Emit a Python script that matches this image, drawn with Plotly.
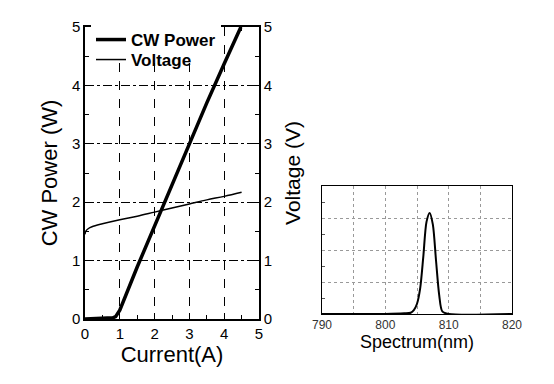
import plotly.graph_objects as go

# LI data
current_a = [0, 0.5, 0.8, 0.88, 0.95, 1.0, 1.5, 2.0, 2.5, 3.0, 3.5, 4.0, 4.48]
power_w = [0, 0.01, 0.02, 0.04, 0.1, 0.15, 0.89, 1.6, 2.31, 3.01, 3.70, 4.37, 5.0]

current_v = [0, 0.02, 0.1, 0.2, 0.5, 1.0, 1.5, 2.0, 2.5, 3.0, 3.5, 4.0, 4.5]
voltage_v = [1.45, 1.5, 1.55, 1.58, 1.63, 1.7, 1.76, 1.83, 1.9, 1.97, 2.04, 2.1, 2.17]

# Spectrum
wavelength_nm = [790, 800, 803, 804, 804.5, 805, 805.5, 806, 806.5, 807, 807.5, 808, 808.5, 809, 810, 820]
intensity = [0, 0, 0.005, 0.01, 0.03, 0.08, 0.2, 0.45, 0.72, 0.79, 0.7, 0.42, 0.15, 0.02, 0, 0]

tick_vals = [0, 1, 2, 3, 4, 5]
spec_ticks = [790, 800, 810, 820]
spec_minor = [795, 805, 815]

FONT = "Liberation Sans, Arial, sans-serif"

fig = go.Figure()
fig.add_trace(go.Scatter(x=current_a, y=power_w, mode="lines", name="CW Power",
                         line=dict(color="black", width=3.5), xaxis="x", yaxis="y",
                         legend="legend"))
fig.add_trace(go.Scatter(x=current_v, y=voltage_v, mode="lines", name="Voltage",
                         line=dict(color="black", width=1.5, shape="spline"), xaxis="x", yaxis="y2",
                         legend="legend2"))
fig.add_trace(go.Scatter(x=wavelength_nm, y=intensity, mode="lines", showlegend=False,
                         line=dict(color="black", width=2, shape="spline", smoothing=0.8),
                         xaxis="x3", yaxis="y3"))

ax_common = dict(showline=True, linecolor="black", linewidth=1.5, ticks="inside",
                 tickcolor="black", ticklen=6, tickwidth=1.2, automargin=False,
                 tickfont=dict(family=FONT, size=15, color="black"), zeroline=False)
minor_common = dict(ticks="inside", ticklen=4, dtick=0.5, tickcolor="black", showgrid=False)
leg_common = dict(xanchor="left", yanchor="middle", borderwidth=0,
                  font=dict(family=FONT, size=17, color="black", weight="bold"),
                  itemwidth=30)

fig.update_layout(
    width=554, height=384, margin=dict(l=0, r=0, t=0, b=0, autoexpand=False),
    paper_bgcolor="white", plot_bgcolor="white",
    font=dict(family=FONT, color="black"),
    xaxis=dict(domain=[85/554, 259/554], range=[0, 5], tickvals=tick_vals, mirror="ticks",
               showgrid=True, gridcolor="black", griddash="dash", gridwidth=1,
               minor=minor_common,
               title=dict(text="Current(A)", font=dict(family=FONT, size=22), standoff=1),
               anchor="y", **ax_common),
    yaxis=dict(domain=[1-319/384, 1-27/384], range=[0, 5], tickvals=tick_vals,
               showgrid=True, gridcolor="black", griddash="dashdot", gridwidth=1,
               minor=minor_common,
               title=dict(text="CW Power (W)", font=dict(family=FONT, size=22), standoff=8),
               anchor="x", **ax_common),
    yaxis2=dict(overlaying="y", side="right", range=[0, 5], tickvals=tick_vals, showgrid=False,
                minor=minor_common,
                title=dict(text="Voltage (V)", font=dict(family=FONT, size=21), standoff=14),
                anchor="x", **ax_common),
    xaxis3=dict(domain=[322/554, 512/554], range=[790, 820], tickvals=spec_ticks,
                showline=True, linecolor="black", linewidth=1, mirror=True, ticks="",
                showgrid=True, gridcolor="#999", griddash="dot", gridwidth=1,
                minor=dict(tickvals=spec_minor, showgrid=True, gridcolor="#999",
                           griddash="dot", gridwidth=1, ticks=""),
                tickfont=dict(family=FONT, size=12, color="#333"), zeroline=False, automargin=False,
                title=dict(text="Spectrum(nm)", font=dict(family=FONT, size=18), standoff=3),
                anchor="y3"),
    yaxis3=dict(domain=[1-314/384, 1-186/384], range=[0, 1], showticklabels=False,
                showline=True, linecolor="black", linewidth=1, mirror=True, ticks="",
                showgrid=True, gridcolor="#999", griddash="dot", gridwidth=1, automargin=False,
                tickvals=[0.25, 0.5, 0.75], zeroline=False, anchor="x3",
                minor=dict(tickvals=[0.125, 0.375, 0.625, 0.875], ticks="inside", ticklen=3,
                           tickcolor="#555", showgrid=False)),
    legend=dict(x=91/554, y=1-40/384, bgcolor="white", **leg_common),
    legend2=dict(x=91/554, y=1-60/384, bgcolor="rgba(0,0,0,0)", **leg_common),
)
fig.write_html("out.html", config={"displayModeBar": False},
               post_script="document.body.style.margin='0';")
